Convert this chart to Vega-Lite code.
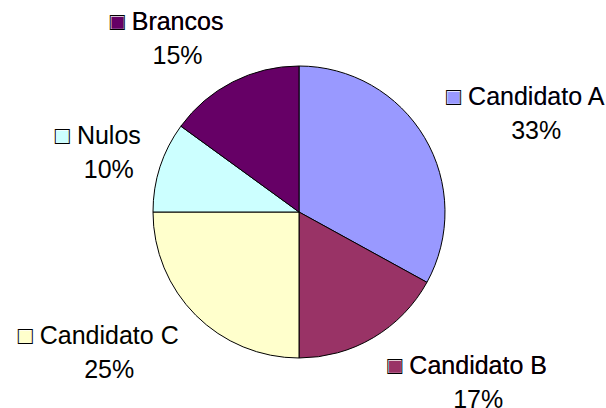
{
  "$schema": "https://vega.github.io/schema/vega-lite/v6.json",
  "width": 598,
  "height": 392,
  "autosize": {"type": "none"},
  "padding": {"left": 0, "top": 16, "right": 8, "bottom": 0},
  "background": "white",
  "config": {"view": {"stroke": null}},
  "data": {
    "values": [
      {"categoria": "Candidato A", "valor": 33, "ordem": 1},
      {"categoria": "Candidato B", "valor": 17, "ordem": 2},
      {"categoria": "Candidato C", "valor": 25, "ordem": 3},
      {"categoria": "Nulos", "valor": 10, "ordem": 4},
      {"categoria": "Brancos", "valor": 15, "ordem": 5}
    ]
  },
  "transform": [
    {"joinaggregate": [{"op": "sum", "field": "valor", "as": "total"}]},
    {"window": [{"op": "sum", "field": "valor", "as": "cum"}], "sort": [{"field": "ordem"}], "frame": [null, 0]},
    {"calculate": "2*PI*(datum.cum - datum.valor/2)/datum.total", "as": "mid"},
    {"calculate": "width/2 + 165*sin(datum.mid) + (sin(datum.mid) >= 0 ? 1 : -1)*(22 + 13.3*length(datum.categoria))/2", "as": "lx"},
    {"calculate": "height/2 - 196*cos(datum.mid)", "as": "ly"},
    {"calculate": "'■ ' + datum.categoria + '\\n'", "as": "t1"},
    {"calculate": "'□ ' + datum.categoria + '\\n'", "as": "t2"},
    {"calculate": "'\\n' + datum.valor + '%'", "as": "t3"}
  ],
  "layer": [
    {
      "mark": {"type": "arc", "radius": 146, "stroke": "black", "strokeWidth": 1},
      "encoding": {
        "theta": {"field": "valor", "type": "quantitative", "stack": true},
        "order": {"field": "ordem", "type": "quantitative"},
        "color": {
          "field": "categoria",
          "type": "nominal",
          "scale": {
            "domain": ["Candidato A", "Candidato B", "Candidato C", "Nulos", "Brancos"],
            "range": ["#9999FF", "#993366", "#FFFFCC", "#CCFFFF", "#660066"]
          },
          "legend": null
        }
      }
    },
    {
      "mark": {"type": "text", "font": "Liberation Sans", "fontSize": 25, "align": "center", "baseline": "middle", "lineBreak": "\n", "lineHeight": 34, "dy": -15},
      "encoding": {
        "x": {"field": "lx", "type": "quantitative", "scale": null, "axis": null},
        "y": {"field": "ly", "type": "quantitative", "scale": null, "axis": null},
        "text": {"field": "t1"},
        "color": {"field": "categoria", "type": "nominal", "legend": null}
      }
    },
    {
      "mark": {"type": "text", "font": "Liberation Sans", "fontSize": 25, "align": "center", "baseline": "middle", "lineBreak": "\n", "lineHeight": 34, "dy": -15, "color": "black"},
      "encoding": {
        "x": {"field": "lx", "type": "quantitative", "scale": null, "axis": null},
        "y": {"field": "ly", "type": "quantitative", "scale": null, "axis": null},
        "text": {"field": "t2"}
      }
    },
    {
      "mark": {"type": "text", "font": "Liberation Sans", "fontSize": 25, "align": "center", "baseline": "middle", "lineBreak": "\n", "lineHeight": 34, "dy": -15, "dx": 11, "color": "black"},
      "encoding": {
        "x": {"field": "lx", "type": "quantitative", "scale": null, "axis": null},
        "y": {"field": "ly", "type": "quantitative", "scale": null, "axis": null},
        "text": {"field": "t3"}
      }
    }
  ]
}
